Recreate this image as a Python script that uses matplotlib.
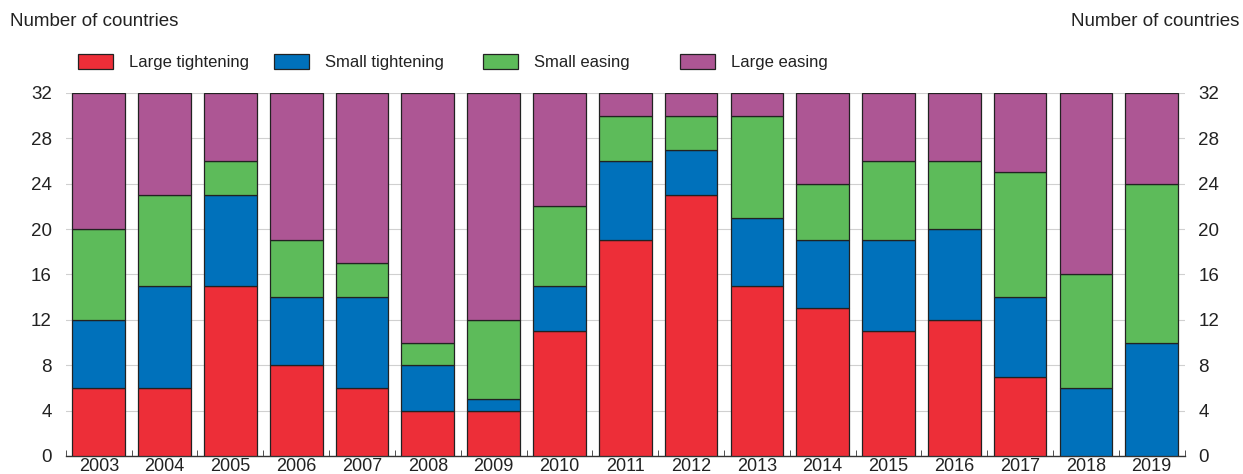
import matplotlib
matplotlib.use("Agg")
import matplotlib.pyplot as plt
from matplotlib.patches import Patch
import numpy as np

plt.rcParams['font.family'] = ['Liberation Sans', 'DejaVu Sans']

years = ["2003", "2004", "2005", "2006", "2007", "2008", "2009", "2010", "2011",
         "2012", "2013", "2014", "2015", "2016", "2017", "2018", "2019"]
large_tightening = [6, 6, 15, 8, 6, 4, 4, 11, 19, 23, 15, 13, 11, 12, 7, 0, 0]
small_tightening = [6, 9, 8, 6, 8, 4, 1, 4, 7, 4, 6, 6, 8, 8, 7, 6, 10]
small_easing = [8, 8, 3, 5, 3, 2, 7, 7, 4, 3, 9, 5, 7, 6, 11, 10, 14]
large_easing = [12, 9, 6, 13, 15, 22, 20, 10, 2, 2, 2, 8, 6, 6, 7, 16, 8]

series = [
    ("Large tightening", large_tightening, "#ED2E38"),
    ("Small tightening", small_tightening, "#0071BB"),
    ("Small easing", small_easing, "#5DBB5A"),
    ("Large easing", large_easing, "#AD5694"),
]

fig = plt.figure(figsize=(12.43, 4.74), dpi=100)
ax = fig.add_axes([0.053, 0.038, 0.9, 0.766])

x = np.arange(len(years))
bottom = np.zeros(len(years))
for name, vals, color in series:
    vals = np.array(vals, dtype=float)
    ax.bar(x, vals, bottom=bottom, width=0.8, color=color, edgecolor="#222222",
           linewidth=0.9, zorder=3, label=name)
    bottom += vals

ax.set_xlim(-0.5, len(years) - 0.5)
ax.set_ylim(0, 32)
ax.set_yticks(range(0, 33, 4))
ax.grid(axis="y", color="#d0d0d0", linewidth=0.8, zorder=0)
ax.set_axisbelow(True)

for side in ["top", "left", "right"]:
    ax.spines[side].set_visible(False)
ax.spines["bottom"].set_color("#333333")
ax.spines["bottom"].set_linewidth(1.0)

ax.set_xticks(x)
ax.set_xticklabels(years, fontsize=13, color="#222222")
ax.tick_params(axis="x", length=0, pad=1.5)
ax.set_xticks(np.arange(-0.5, len(years)), minor=True)
ax.tick_params(axis="x", which="minor", direction="in", length=4, color="#333333")

ax.tick_params(axis="y", length=0, labelsize=13.5, labelcolor="#222222",
               left=True, right=True, labelleft=True, labelright=True, pad=10)

fig.text(0.008, 0.955, "Number of countries", fontsize=13.5, color="#222222",
         ha="left", va="center")
fig.text(0.997, 0.955, "Number of countries", fontsize=13.5, color="#222222",
         ha="right", va="center")

# one legend entry per slot along the top
slot_x = [0.0628, 0.2205, 0.3885, 0.547]
for (name, _, color), sx in zip(series, slot_x):
    h = Patch(facecolor=color, edgecolor="#222222", linewidth=0.9, label=name)
    leg = fig.legend(handles=[h], loc="center left", bbox_to_anchor=(sx, 0.869),
                     frameon=False, fontsize=12, handlelength=2.1,
                     handleheight=1.0, handletextpad=0.95,
                     labelcolor="#222222", borderaxespad=0, borderpad=0)

fig.savefig("out.png", dpi=100)
